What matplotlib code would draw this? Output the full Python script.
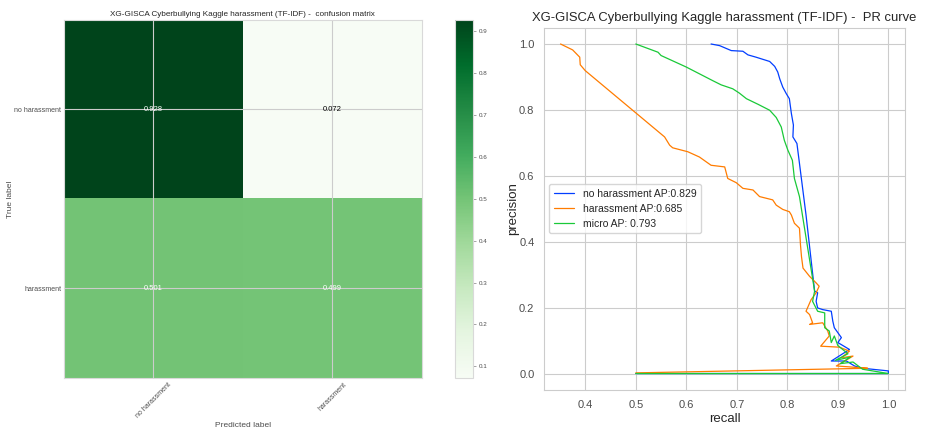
import numpy as np
import matplotlib
matplotlib.use("Agg")
import matplotlib.pyplot as plt
import seaborn as sns

sns.set_style("whitegrid")
plt.rcParams['font.family'] = ['Liberation Sans', 'DejaVu Sans']

classes = ["no harassment", "harassment"]
cm_values = [[0.928, 0.072],
             [0.501, 0.499]]
cb_ticks = [0.1, 0.2, 0.3, 0.4, 0.5, 0.6, 0.7, 0.8, 0.9]

blue_recall = [0.649, 0.666, 0.689, 0.712, 0.722, 0.738, 0.765, 0.775, 0.781, 0.785, 0.791, 0.798,
               0.804, 0.808, 0.812, 0.811, 0.819, 0.837, 0.854, 0.860, 0.857, 0.860, 0.870, 0.887,
               0.890, 0.893, 0.900, 0.907, 0.900, 0.923, 0.887, 0.917, 0.933, 0.949, 1.0, 1.0, 0.5]
blue_precision = [1.0, 0.995, 0.980, 0.978, 0.967, 0.960, 0.947, 0.932, 0.915, 0.894, 0.869, 0.849,
                  0.834, 0.789, 0.754, 0.718, 0.698, 0.481, 0.250, 0.245, 0.219, 0.199, 0.194, 0.189,
                  0.159, 0.139, 0.124, 0.109, 0.094, 0.073, 0.038, 0.038, 0.023, 0.016, 0.008, 0.0, 0.0]

orange_recall = [0.351, 0.375, 0.389, 0.390, 0.400, 0.557, 0.567, 0.573, 0.603, 0.626, 0.649, 0.676,
                 0.682, 0.699, 0.712, 0.732, 0.745, 0.771, 0.778, 0.791, 0.804, 0.808, 0.814, 0.824,
                 0.826, 0.828, 0.831, 0.844, 0.857, 0.863, 0.857, 0.847, 0.837, 0.844, 0.850, 0.844,
                 0.870, 0.880, 0.883, 0.866, 0.903, 0.923, 0.907, 0.930, 0.897, 0.943, 0.959, 0.5]
orange_precision = [1.0, 0.982, 0.960, 0.937, 0.919, 0.718, 0.693, 0.685, 0.673, 0.657, 0.632, 0.627,
                    0.592, 0.579, 0.562, 0.557, 0.537, 0.527, 0.511, 0.498, 0.491, 0.481, 0.456, 0.441,
                    0.391, 0.355, 0.320, 0.295, 0.275, 0.265, 0.245, 0.224, 0.189, 0.179, 0.154, 0.149,
                    0.154, 0.129, 0.114, 0.083, 0.080, 0.068, 0.048, 0.053, 0.023, 0.018, 0.016, 0.002]

green_recall = [0.5, 0.544, 0.550, 0.600, 0.652, 0.669, 0.692, 0.705, 0.719, 0.742, 0.765, 0.778,
                0.788, 0.794, 0.801, 0.810, 0.814, 0.824, 0.854, 0.850, 0.860, 0.874, 0.874, 0.883,
                0.887, 0.893, 0.900, 0.920, 0.895, 0.925, 0.905, 0.930, 0.949, 1.0, 0.5]
green_precision = [1.0, 0.975, 0.965, 0.930, 0.889, 0.876, 0.864, 0.851, 0.834, 0.817, 0.799, 0.777,
                   0.748, 0.708, 0.678, 0.647, 0.592, 0.537, 0.250, 0.219, 0.189, 0.184, 0.139, 0.129,
                   0.094, 0.114, 0.085, 0.060, 0.040, 0.050, 0.030, 0.035, 0.013, 0.0, 0.0]

curve_labels = ["no harassment AP:0.829", "harassment AP:0.685", "micro AP: 0.793"]
colors = ["#023eff", "#ff7c00", "#1ac938"]

fig = plt.figure(figsize=(9.27, 4.30), dpi=100)

# Confusion matrix
ax1 = fig.add_axes([0.069, 0.121, 0.386, 0.833])
cm = np.array(cm_values)
im = ax1.imshow(cm, interpolation='nearest', cmap='Greens', aspect='auto')
ax1.set_title("XG-GISCA Cyberbullying Kaggle harassment (TF-IDF) -  confusion matrix",
              fontsize=5.9, pad=3)
ax1.set_xticks(range(len(classes)))
ax1.set_yticks(range(len(classes)))
ax1.set_xticklabels(classes, rotation=45, fontsize=5, ha='center')
ax1.set_yticklabels(classes, fontsize=5)
ax1.tick_params(axis='both', length=0, pad=2, labelcolor='.3')
thresh = cm.max() / 2.0
for i in range(cm.shape[0]):
    for j in range(cm.shape[1]):
        ax1.text(j, i, format(cm[i, j], '.3f'), ha='center', va='center', fontsize=5.5,
                 color='white' if cm[i, j] > thresh else 'black')
ax1.set_ylabel("True label", fontsize=6, color='.3', labelpad=0)
ax1.set_xlabel("Predicted label", fontsize=6, color='.3', labelpad=2)
for s in ax1.spines.values():
    s.set_color('.85')

cax = fig.add_axes([0.491, 0.121, 0.0194, 0.833])
cb = fig.colorbar(im, cax=cax)
cb.set_ticks(cb_ticks)
cb.ax.tick_params(labelsize=4.5, length=2, width=0.5, color='.5', labelcolor='.3', pad=2)
cb.outline.set_edgecolor('.85')

# PR curve
ax2 = fig.add_axes([0.587, 0.093, 0.389, 0.843])
ax2.plot(blue_recall, blue_precision, color=colors[0], lw=0.9, label=curve_labels[0])
ax2.plot(orange_recall, orange_precision, color=colors[1], lw=0.9, label=curve_labels[1])
ax2.plot(green_recall, green_precision, color=colors[2], lw=0.9, label=curve_labels[2])
ax2.set_title("XG-GISCA Cyberbullying Kaggle harassment (TF-IDF) -  PR curve", fontsize=9.4, pad=5)
ax2.set_xlabel("recall", fontsize=9.5, labelpad=2)
ax2.set_ylabel("precision", fontsize=9.5, labelpad=0)
ax2.set_xticks([0.4, 0.5, 0.6, 0.7, 0.8, 0.9, 1.0])
ax2.set_yticks([0.0, 0.2, 0.4, 0.6, 0.8, 1.0])
ax2.tick_params(labelsize=8, labelcolor='.3')
ax2.legend(loc='center left', fontsize=7.5, frameon=True)

fig.savefig("out.png", dpi=100)
